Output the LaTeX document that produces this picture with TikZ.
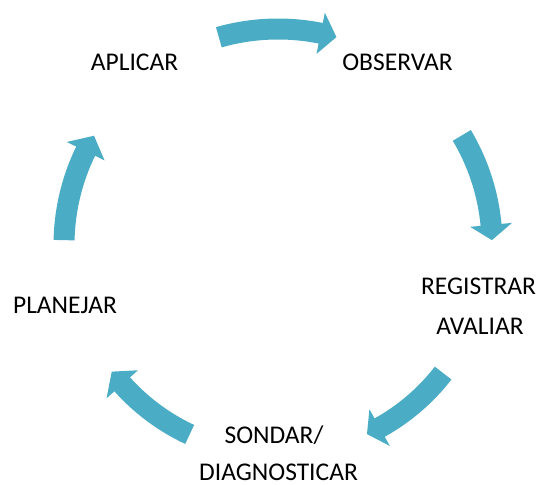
\documentclass[tikz,border=0pt]{standalone}
\usepackage{fontspec}
\setmainfont{Carlito}
\definecolor{cyclearrow}{RGB}{75,172,198}
\tikzset{
  lbl/.style={anchor=base, inner sep=0pt, font=\fontsize{25.5}{30}\selectfont, text=black},
  cyc/.style={fill=cyclearrow, draw=none}
}
% #1 tail angle, #2 head-base angle, #3 tip angle, #4 radius
\newcommand{\cycarrow}[4]{%
  \path[cyc] (#1:#4-10.5) arc[start angle=#1, end angle=#2, radius=#4-10.5]
    -- (#2:#4-21) -- (#3:#4) -- (#2:#4+21) -- (#2:#4+10.5)
    arc[start angle=#2, end angle=#1, radius=#4+10.5] -- cycle;}
\begin{document}
\begin{tikzpicture}[x=1pt,y=1pt]
\useasboundingbox (0,0) rectangle (540,484);
\begin{scope}[shift={(278,239)}]
  \cycarrow{105.9}{78.6}{74.3}{216}
  \cycarrow{30.8}{5.4}{1.3}{214}
  \cycarrow{-37.8}{-60.9}{-64.8}{209}
  \cycarrow{-115}{-138.2}{-142.7}{209}
  \cycarrow{178.7}{154}{149.3}{214}
\end{scope}
\node[lbl] (aplicar) at (134.5,413) {APLICAR};
\node[lbl] (observar) at (397.5,413) {OBSERVAR};
\node[lbl] (registrar) at (478.5,189) {REGISTRAR};
\node[lbl] (avaliar) at (480,149) {AVALIAR};
\node[lbl] (planejar) at (65,170) {PLANEJAR};
\node[lbl] (sondar) at (274,41) {SONDAR/};
\node[lbl] (diagnosticar) at (278.5,4) {DIAGNOSTICAR};
\end{tikzpicture}
\end{document}
